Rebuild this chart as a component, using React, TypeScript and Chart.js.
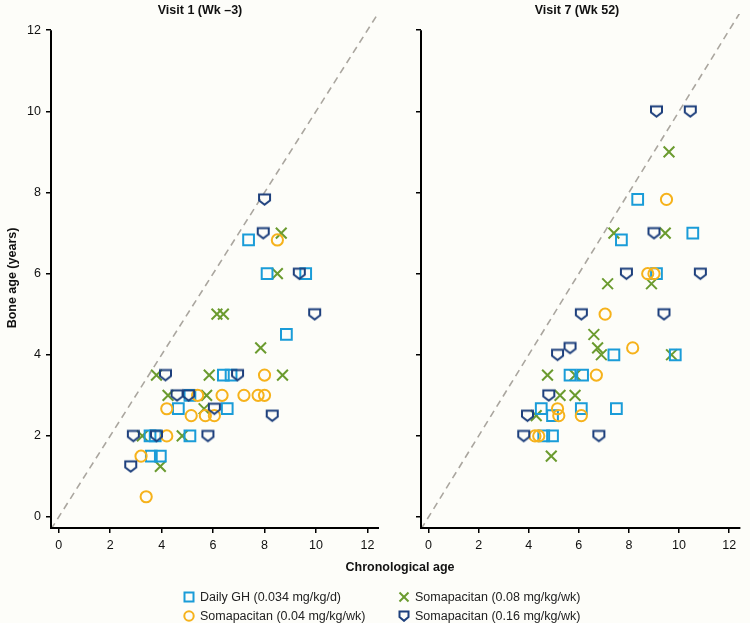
import React, { useEffect, useRef } from 'react';
import { Chart, registerables } from 'chart.js';

Chart.register(...registerables);

const FONT = '"Liberation Sans Narrow", "Liberation Sans", Arial, sans-serif';
const LEGEND_FONT = '"Liberation Sans", Arial, sans-serif';

const panelTitles = ['Visit 1 (Wk \u20133)', 'Visit 7 (Wk 52)'];
const seriesNames = [
  'Daily GH (0.034 mg/kg/d)',
  'Somapacitan (0.04 mg/kg/wk)',
  'Somapacitan (0.08 mg/kg/wk)',
  'Somapacitan (0.16 mg/kg/wk)',
];
const seriesColors = ['#1a9cd8', '#f6b21b', '#6b9b2f', '#1d3f7c'];
const xTickValues = [0, 2, 4, 6, 8, 10, 12];
const yTickValues = [0, 2, 4, 6, 8, 10, 12];
const xAxisRange = [-0.3, 12.45];
const yAxisRange = [-0.27, 12.4];
const identityLine = [-0.3, 12.45];

// Visit 1 (Wk -3): [chronological age, bone age]
const v1DailyGH = [
  [3.55, 2.0], [3.75, 2.0], [3.6, 1.5], [3.95, 1.5], [4.65, 2.67], [5.1, 2.0], [5.1, 3.0],
  [6.4, 3.5], [6.7, 3.5], [6.55, 2.67], [7.38, 6.83], [8.1, 6.0], [9.6, 6.0], [8.85, 4.5],
];
const v1Soma004 = [
  [3.4, 0.5], [3.2, 1.5], [4.2, 2.0], [4.2, 2.67], [5.4, 3.0], [6.35, 3.0], [7.2, 3.0],
  [7.75, 3.0], [8.0, 3.0], [5.15, 2.5], [5.7, 2.5], [6.05, 2.5], [8.0, 3.5], [8.5, 6.83],
];
const v1Soma008 = [
  [3.95, 1.25], [3.25, 2.0], [4.8, 2.0], [4.25, 3.0], [5.75, 3.0], [5.65, 2.67], [3.8, 3.5],
  [5.85, 3.5], [8.7, 3.5], [7.85, 4.17], [6.15, 5.0], [6.4, 5.0], [8.5, 6.0], [8.65, 7.0],
];
const v1Soma016 = [
  [2.8, 1.25], [2.9, 2.0], [3.8, 2.0], [5.8, 2.0], [8.3, 2.5], [6.05, 2.67], [4.6, 3.0],
  [5.05, 3.0], [4.15, 3.5], [6.95, 3.5], [9.95, 5.0], [9.35, 6.0], [7.95, 7.0], [8.0, 7.83],
];

// Visit 7 (Wk 52)
const v7DailyGH = [
  [4.6, 2.0], [4.95, 2.0], [4.95, 2.5], [4.5, 2.67], [6.1, 2.67], [7.5, 2.67], [5.65, 3.5],
  [6.15, 3.5], [7.4, 4.0], [9.85, 4.0], [7.7, 6.83], [9.1, 6.0], [8.35, 7.83], [10.55, 7.0],
];
const v7Soma004 = [
  [4.25, 2.0], [4.4, 2.0], [5.2, 2.5], [6.1, 2.5], [5.15, 2.67], [6.7, 3.5], [8.15, 4.17],
  [7.05, 5.0], [8.75, 6.0], [9.0, 6.0], [9.5, 7.83],
];
const v7Soma008 = [
  [4.9, 1.5], [4.3, 2.5], [5.25, 3.0], [5.85, 3.0], [4.75, 3.5], [5.85, 3.5], [6.9, 4.0],
  [6.75, 4.17], [6.6, 4.5], [9.7, 4.0], [7.15, 5.75], [8.9, 5.75], [7.4, 7.0], [9.45, 7.0], [9.6, 9.0],
];
const v7Soma016 = [
  [3.8, 2.0], [6.8, 2.0], [3.95, 2.5], [4.8, 3.0], [5.15, 4.0], [5.65, 4.17], [6.1, 5.0],
  [9.4, 5.0], [7.9, 6.0], [10.85, 6.0], [9.0, 7.0], [9.1, 10.0], [10.45, 10.0],
];

const toPoints = (arr: number[][]) => arr.map(([x, y]) => ({ x, y }));

function makeShield(color: string): HTMLCanvasElement {
  const c = document.createElement('canvas');
  c.width = 15;
  c.height = 15;
  const g = c.getContext('2d')!;
  g.strokeStyle = color;
  g.lineWidth = 2;
  g.lineJoin = 'miter';
  g.beginPath();
  g.moveTo(2, 2.5);
  g.lineTo(13, 2.5);
  g.lineTo(13, 8.5);
  g.lineTo(7.5, 12.8);
  g.lineTo(2, 8.5);
  g.closePath();
  g.stroke();
  return c;
}

const axisLinesPlugin = {
  id: 'axisLines',
  afterDraw(chart: any) {
    const { ctx, chartArea, scales } = chart;
    const top = scales.y.getPixelForValue(yTickValues[yTickValues.length - 1]);
    ctx.save();
    ctx.strokeStyle = '#000';
    ctx.lineWidth = 2;
    ctx.beginPath();
    ctx.moveTo(chartArea.left, top);
    ctx.lineTo(chartArea.left, chartArea.bottom);
    ctx.lineTo(chartArea.right, chartArea.bottom);
    ctx.stroke();
    ctx.restore();
  },
};

function buildConfig(series: number[][][], showYLabels: boolean, yWidth: number, padRight: number): any {
  const shield = makeShield(seriesColors[3]);
  const styles: any[] = [
    { pointStyle: 'rect', radius: 7.6 },
    { pointStyle: 'circle', radius: 5.6 },
    { pointStyle: 'crossRot', radius: 7.6 },
    { pointStyle: shield, radius: 7 },
  ];
  const pointSets = series.map((s, i) => ({
    type: 'scatter',
    label: seriesNames[i],
    data: toPoints(s),
    pointStyle: styles[i].pointStyle,
    pointRadius: styles[i].radius,
    pointHoverRadius: styles[i].radius,
    borderColor: seriesColors[i],
    backgroundColor: 'rgba(0,0,0,0)',
    pointBorderWidth: 2,
    borderWidth: 2,
    order: [2, 1, 3, 0][i],
  }));
  const lineSet = {
    type: 'line',
    label: 'identity',
    data: identityLine.map((v) => ({ x: v, y: v })),
    borderColor: '#aaa69f',
    borderWidth: 1.6,
    borderDash: [7, 5],
    pointRadius: 0,
    showLine: true,
    fill: false,
    order: 10,
  };
  return {
    type: 'scatter',
    data: { datasets: [lineSet, ...pointSets] },
    options: {
      animation: false,
      responsive: false,
      events: [],
      layout: { padding: { top: 14, right: padRight, left: 0, bottom: 0 } },
      plugins: { legend: { display: false }, tooltip: { enabled: false }, title: { display: false } },
      scales: {
        x: {
          type: 'linear',
          min: xAxisRange[0],
          max: xAxisRange[1],
          afterBuildTicks: (axis: any) => {
            axis.ticks = xTickValues.map((v) => ({ value: v }));
          },
          afterFit: (axis: any) => {
            axis.height = 52;
          },
          grid: { display: true, drawOnChartArea: false, drawTicks: true, tickLength: 5, color: '#000', lineWidth: 1.5 },
          border: { display: false },
          ticks: { color: '#111', font: { family: FONT, size: 12.5 }, padding: 5, maxRotation: 0 },
        },
        y: {
          type: 'linear',
          min: yAxisRange[0],
          max: yAxisRange[1],
          afterBuildTicks: (axis: any) => {
            axis.ticks = yTickValues.map((v) => ({ value: v }));
          },
          afterFit: (axis: any) => {
            axis.width = yWidth;
          },
          grid: { display: true, drawOnChartArea: false, drawTicks: true, tickLength: 5, color: '#000', lineWidth: 1.5 },
          border: { display: false },
          ticks: {
            color: '#111',
            font: { family: FONT, size: 12.5 },
            padding: 5,
            callback: (v: any) => (showYLabels ? String(v) : ''),
          },
        },
      },
    },
    plugins: [axisLinesPlugin],
  };
}

function LegendSymbol({ kind, color }: { kind: number; color: string }) {
  const s = 12;
  let shape: any = null;
  if (kind === 0) shape = <rect x={1.5} y={1.5} width={9} height={9} fill="none" stroke={color} strokeWidth={2} />;
  if (kind === 1) shape = <circle cx={6} cy={6} r={4.7} fill="none" stroke={color} strokeWidth={2} />;
  if (kind === 2)
    shape = (
      <g stroke={color} strokeWidth={2}>
        <line x1={1.5} y1={1.5} x2={10.5} y2={10.5} />
        <line x1={10.5} y1={1.5} x2={1.5} y2={10.5} />
      </g>
    );
  if (kind === 3)
    shape = <path d="M1.5 1.5 H10.5 V7 L6 10.8 L1.5 7 Z" fill="none" stroke={color} strokeWidth={2} />;
  return (
    <svg width={s} height={s} style={{ display: 'block' }}>
      {shape}
    </svg>
  );
}

export default function App() {
  const leftRef = useRef<HTMLCanvasElement>(null);
  const rightRef = useRef<HTMLCanvasElement>(null);

  useEffect(() => {
    const c1 = new Chart(leftRef.current!, buildConfig([v1DailyGH, v1Soma004, v1Soma008, v1Soma016], true, 51, 21));
    const c2 = new Chart(rightRef.current!, buildConfig([v7DailyGH, v7Soma004, v7Soma008, v7Soma016], false, 21, 0));
    return () => {
      c1.destroy();
      c2.destroy();
    };
  }, []);

  const legendPos = [
    { left: 183, top: 590 },
    { left: 183, top: 609 },
    { left: 398, top: 590 },
    { left: 398, top: 609 },
  ];

  return (
    <div style={{ position: 'absolute', left: 0, top: 0, width: 750, height: 623, background: '#fdfdf9', overflow: 'hidden' }}>
      <canvas ref={leftRef} width={400} height={580} style={{ position: 'absolute', left: 0, top: 0, width: 400, height: 580 }} />
      <canvas ref={rightRef} width={350} height={580} style={{ position: 'absolute', left: 400, top: 0, width: 350, height: 580 }} />
      {panelTitles.map((t, i) => (
        <div
          key={t}
          style={{
            position: 'absolute',
            left: i === 0 ? 100 : 477,
            width: 200,
            top: 3,
            textAlign: 'center',
            font: `bold 12.5px ${FONT}`,
            color: '#111',
          }}
        >
          {t}
        </div>
      ))}
      <div
        style={{
          position: 'absolute',
          left: 12 - 100,
          top: 279 - 8,
          width: 200,
          textAlign: 'center',
          transform: 'rotate(-90deg)',
          font: `bold 12.5px ${FONT}`,
          color: '#111',
        }}
      >
        Bone age (years)
      </div>
      <div
        style={{
          position: 'absolute',
          left: 300,
          width: 200,
          top: 560,
          textAlign: 'center',
          font: `bold 12.5px ${FONT}`,
          color: '#111',
        }}
      >
        Chronological age
      </div>
      {seriesNames.map((n, i) => {
        const p = legendPos[[0, 1, 2, 3][i]];
        return (
          <div
            key={n}
            style={{
              position: 'absolute',
              left: p.left,
              top: p.top,
              display: 'flex',
              alignItems: 'center',
              gap: 5,
              font: `12.5px ${LEGEND_FONT}`,
              color: '#222',
              whiteSpace: 'nowrap',
              lineHeight: '14px',
            }}
          >
            <LegendSymbol kind={i} color={seriesColors[i]} />
            <span>{n}</span>
          </div>
        );
      })}
    </div>
  );
}
